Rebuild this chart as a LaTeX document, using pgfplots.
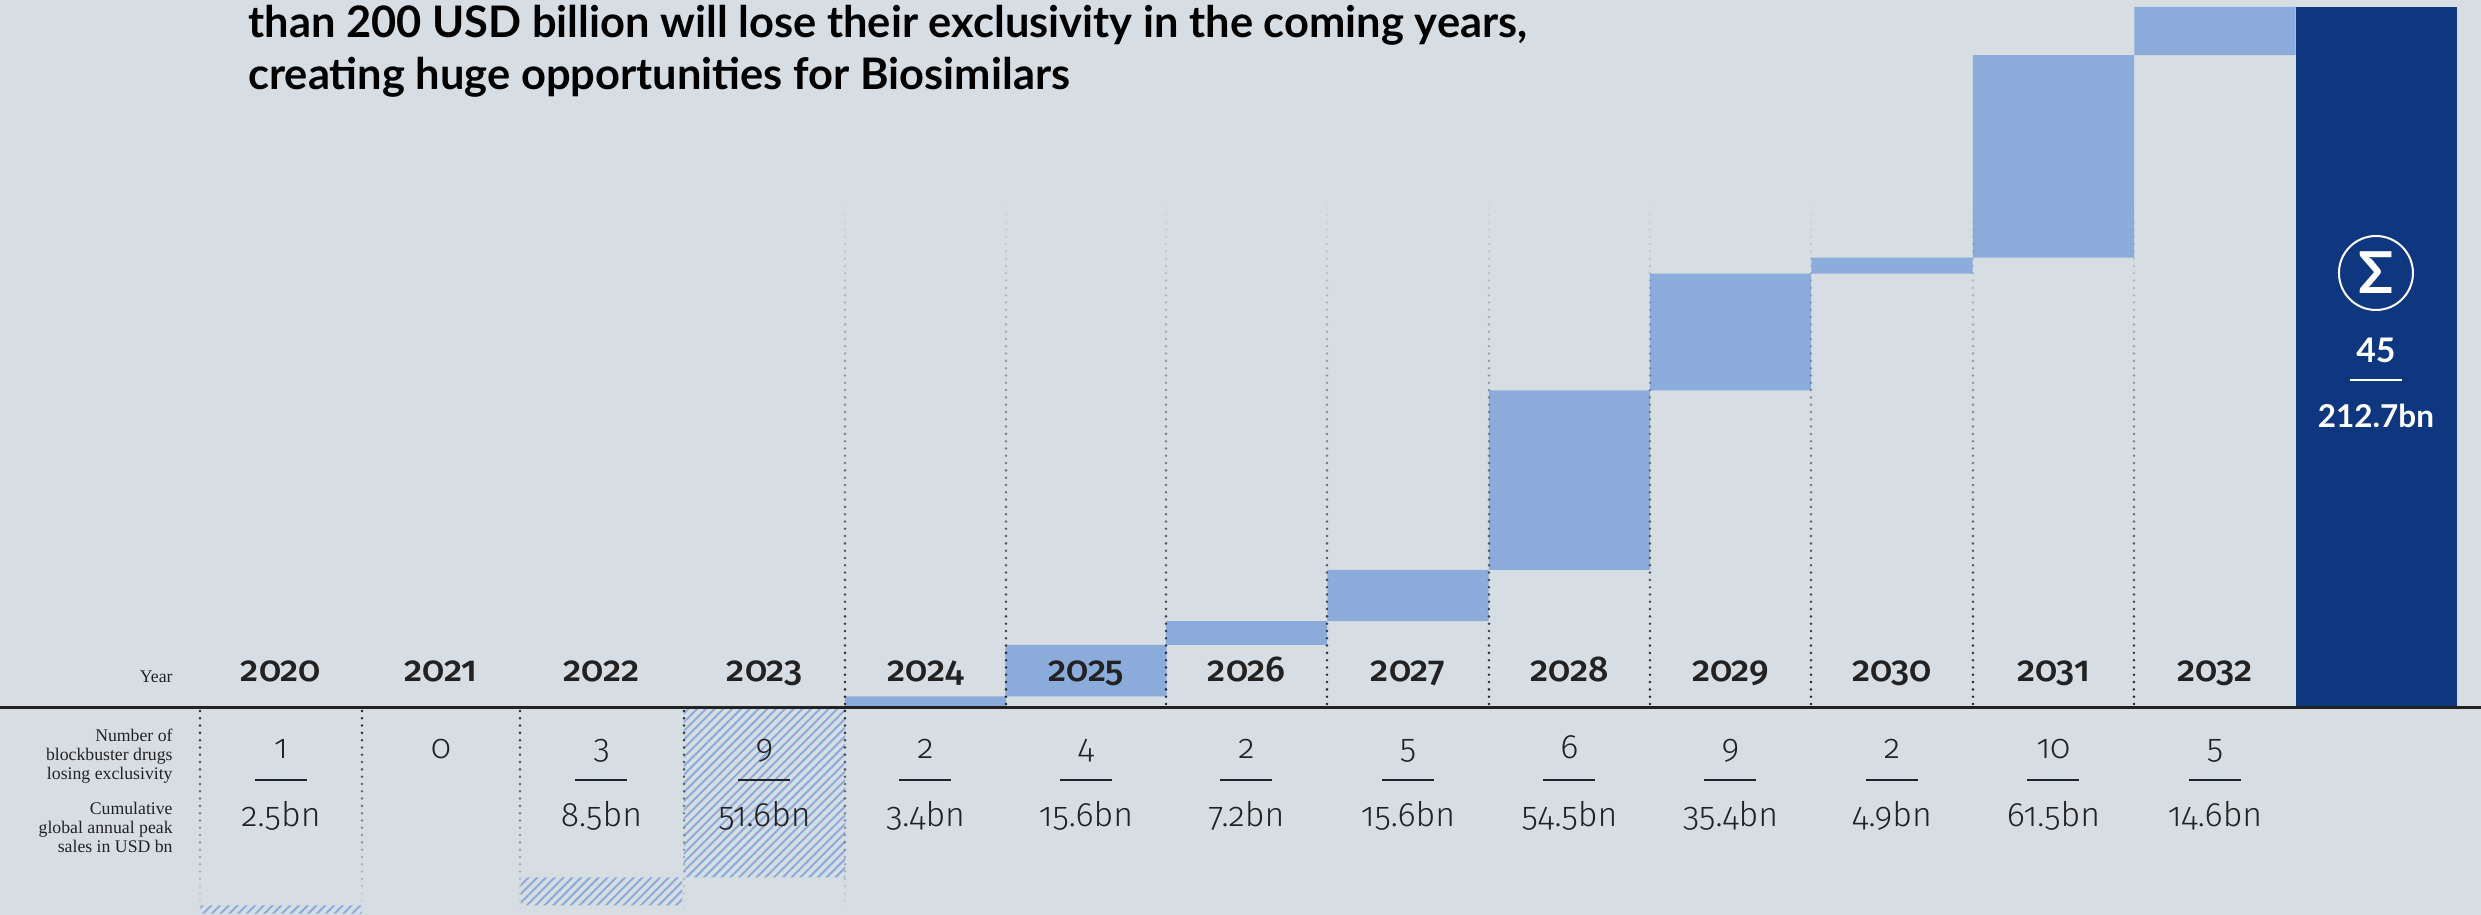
\documentclass[border=0pt]{standalone}
\usepackage{fontspec}
\usepackage{pgfplots}
\usepackage{pgfplotstable}
\pgfplotsset{compat=1.18}
\usetikzlibrary{patterns.meta}
\setmainfont{Lato}
\newfontfamily\numfont[Numbers=OldStyle]{Fira Sans Light}
\newfontfamily\yearfont[Numbers=OldStyle]{Fira Sans Medium}
\newfontfamily\serif{Liberation Serif}
\definecolor{bgc}{HTML}{D6DDE3}
\definecolor{barc}{HTML}{8BABDB}
\definecolor{totalc}{HTML}{0E3780}
\definecolor{ink}{HTML}{222222}

% x = column centre (px of the reference), waterfall in USD bn
\pgfplotstableread{
x      base    gain  hatch  total
281    -60.1   0     -2.5   0
441    -60.1   0      0     0
601.5  -51.6   0     -8.5   0
764.5   0      0    -51.6   0
925.5   0      3.4    0     0
1086    3.4   15.6    0     0
1246.5 19.0    7.2    0     0
1408   26.2   15.6    0     0
1569.5 41.8   54.5    0     0
1730.5 96.3   35.4    0     0
1892  131.7    4.9    0     0
2053.5 136.6  61.5    0     0
2215  198.1   14.6    0     0
2376.5  0      0      0   212.7
}\waterfall

\newcommand{\dotline}[4]{% x, first y, step, count
  \foreach \i in {0,...,#4}{
    \pgfmathsetmacro\op{1.0*(1-\i/(#4+1))}
    \fill[ink,fill opacity=\op] (#1,{#2+#3*\i}) circle (0.7bp);
  }}
\newcommand{\fs}[1]{\fontsize{#1}{#1}\selectfont}

\begin{document}
\begin{tikzpicture}
\useasboundingbox (0,0) rectangle (1240.5bp,457.5bp);
\fill[bgc] (0,0) rectangle (1240.5bp,457.5bp);
\begin{axis}[
    at={(0,0)}, anchor=south west,
    scale only axis,
    width=1240.5bp, height=457.5bp,
    xmin=0, xmax=2481,
    ymin=-63, ymax=214.82,
    axis on top,
    axis line style={draw=none},
    major tick length=0pt,
    ytick=\empty,
    xtick={281,441,601.5,764.5,925.5,1086,1246.5,1408,1569.5,1730.5,1892,2053.5,2215},
    xticklabels={2020,2021,2022,2023,2024,2025,2026,2027,2028,2029,2030,2031,2032},
    xticklabel style={anchor=base, yshift=116.5bp, text=ink,
        font=\yearfont\fs{18}},
    ybar stacked,
    bar width=161.3,
]
\addplot[draw=none,fill=none] table[x=x,y=base] {\waterfall};
\addplot[draw=none,fill=barc] table[x=x,y=gain] {\waterfall};
\addplot[draw=none,pattern={Lines[angle=45,distance=3.1bp,line width=1bp]},pattern color=barc] table[x=x,y=hatch] {\waterfall};
\addplot[draw=none,fill=totalc] table[x=x,y=total] {\waterfall};
\end{axis}

% overlay in reference pixels, origin top left
\begin{scope}[x=0.5bp,y=-0.5bp,yshift=457.5bp]
\foreach \xx in {845,1006,1166,1327,1489,1650,1811,1973,2134}{\dotline{\xx}{704}{-7.3}{69}}
\foreach \xx in {200,362,520,684,845}{\dotline{\xx}{711}{7.3}{27}}
\draw[ink,line width=1.5bp] (0,707.5) -- (2481,707.5);

\node[anchor=base west,inner sep=0,font=\bfseries\fs{21.8},text=black] at (248,38) {than 200 USD billion will lose their exclusivity in the coming years,};
\node[anchor=base west,inner sep=0,font=\bfseries\fs{21.8},text=black] at (248,90) {creating huge opportunities for Biosimilars};

\foreach \y/\t in {683/Year,742/Number of,761/blockbuster drugs,780/losing exclusivity,815/Cumulative,834/global annual peak,853/sales in USD bn}
  \node[anchor=base east,inner sep=0,font=\serif\fs{8.9},text=ink] at (173,\y) {\t};

\foreach \xx/\n/\v in {281/1/2.5bn,601.5/3/8.5bn,764.5/9/51.6bn,925.5/2/3.4bn,1086/4/15.6bn,1246.5/2/7.2bn,1408/5/15.6bn,1569.5/6/54.5bn,1730.5/9/35.4bn,1892/2/4.9bn,2053.5/10/61.5bn,2215/5/14.6bn}{
  \node[anchor=base,inner sep=0,font=\numfont\fs{17},text=ink] at (\xx,759) {\n};
  \draw[ink,line width=1.1bp] (\xx-26,780) -- (\xx+26,780);
  \node[anchor=base,inner sep=0,font=\numfont\fs{17},text=ink] at (\xx,827) {\v};
}
\node[anchor=base,inner sep=0,font=\numfont\fs{17},text=ink] at (441,759) {0};

% total column
\draw[white,line width=1bp] (2376,273) circle (18.5bp);
\node[white,inner sep=0,font=\bfseries\fs{29}] at (2376,273) {Σ};
\node[white,anchor=base,inner sep=0,font=\bfseries\fs{17}] at (2376,363) {45};
\draw[white,line width=0.7bp] (2350,380) -- (2402,380);
\node[white,anchor=base,inner sep=0,font=\bfseries\fs{15.8}] at (2376,428) {212.7bn};
\end{scope}
\end{tikzpicture}
\end{document}
